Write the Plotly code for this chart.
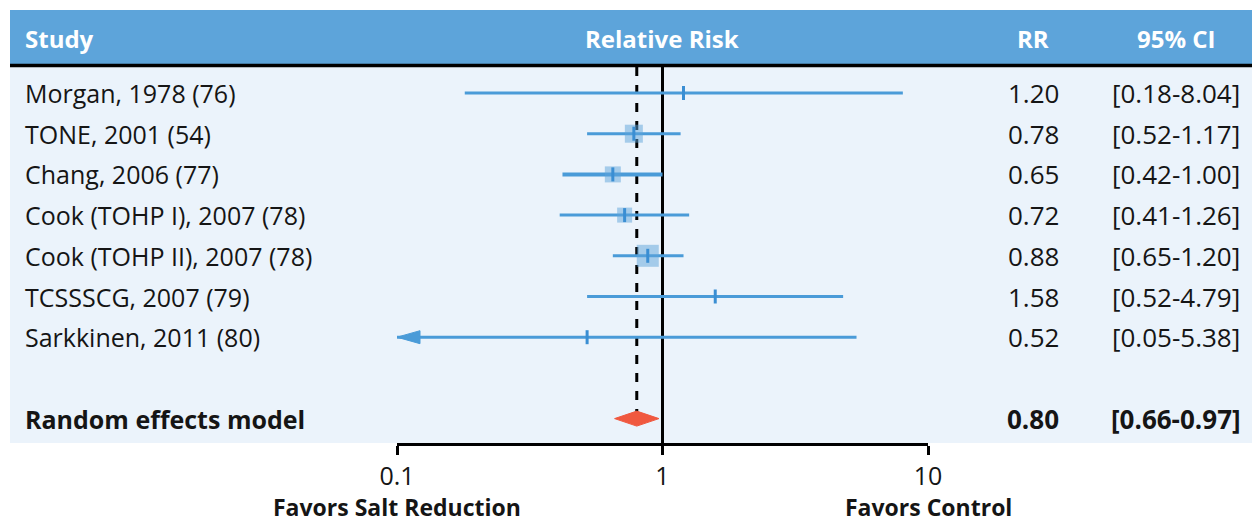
import math
import plotly.graph_objects as go

# ---------------- data ----------------
studies = ["Morgan, 1978 (76)", "TONE, 2001 (54)", "Chang, 2006 (77)",
           "Cook (TOHP I), 2007 (78)", "Cook (TOHP II), 2007 (78)",
           "TCSSSCG, 2007 (79)", "Sarkkinen, 2011 (80)"]
rr = [1.20, 0.78, 0.65, 0.72, 0.88, 1.58, 0.52]
ci_low = [0.18, 0.52, 0.42, 0.41, 0.65, 0.52, 0.05]
ci_high = [8.04, 1.17, 1.00, 1.26, 1.20, 4.79, 5.38]
pooled_label = "Random effects model"
pooled_rr = 0.80
pooled_low = 0.66
pooled_high = 0.97
tick_vals = [0.1, 1, 10]
tick_text = ["0.1", "1", "10"]
x_min, x_max = 0.1, 10

# ---------------- style ----------------
W, H = 1252, 523
FONT = "Open Sans"
HEADER_BLUE = "#5DA4DA"
PANEL = "#EBF3FB"
LINE_BLUE = "#4A9BD8"
TICK_BLUE = "#3A8ED3"
BOX = "rgba(93,164,218,0.5)"
RED = "#F0583F"
TXT = "#151515"
box_px = [0, 18, 16, 15, 22, 0, 0]
line_w = [3, 3, 4, 3, 3, 3, 3]

ax_left_px, ax_right_px = 397, 928
panel_top_px, panel_bot_px = 67, 443
row0_px, row_step = 93, 40.7
pooled_row = len(studies) + 1

def py(px):
    return 1 - px / H

y_top = (panel_top_px - row0_px) / row_step
y_bot = (panel_bot_px - row0_px) / row_step

fig = go.Figure()

# CI lines and point estimates
for i, (lo, hi, r) in enumerate(zip(ci_low, ci_high, rr)):
    fig.add_trace(go.Scatter(x=[max(lo, x_min * 0.5), hi], y=[i, i], mode="lines",
                             line=dict(color=LINE_BLUE, width=line_w[i]),
                             hoverinfo="skip", showlegend=False))
    if box_px[i] > 0:
        fig.add_trace(go.Scatter(x=[r], y=[i], mode="markers",
                                 marker=dict(symbol="square", size=box_px[i], color=BOX),
                                 hoverinfo="skip", showlegend=False))
    fig.add_trace(go.Scatter(x=[r], y=[i], mode="markers",
                             marker=dict(symbol="line-ns", size=10,
                                         line=dict(color=TICK_BLUE, width=3)),
                             hoverinfo="skip", showlegend=False))
    # arrow for CI truncated at the axis minimum
    if lo < x_min:
        dec_px = (ax_right_px - ax_left_px) / (math.log10(x_max) - math.log10(x_min))
        base = x_min * 10 ** (23 / dec_px)
        hh = 6.5 / row_step
        fig.add_trace(go.Scatter(x=[x_min, base, base, x_min], y=[i, i - hh, i + hh, i],
                                 mode="lines", fill="toself", fillcolor=LINE_BLUE,
                                 line=dict(color=LINE_BLUE, width=1),
                                 hoverinfo="skip", showlegend=False))

# pooled diamond
dh = 7.5 / row_step
fig.add_trace(go.Scatter(x=[pooled_low, pooled_rr, pooled_high, pooled_rr, pooled_low],
                         y=[pooled_row, pooled_row - dh, pooled_row, pooled_row + dh, pooled_row],
                         mode="lines", fill="toself", fillcolor=RED,
                         line=dict(color=RED, width=1), hoverinfo="skip", showlegend=False))

shapes = [
    dict(type="rect", xref="paper", yref="paper", x0=10 / W, x1=1, y0=py(64), y1=py(10),
         fillcolor=HEADER_BLUE, line=dict(width=0), layer="below"),
    dict(type="rect", xref="paper", yref="paper", x0=10 / W, x1=1, y0=py(panel_bot_px),
         y1=py(panel_top_px), fillcolor=PANEL, line=dict(width=0), layer="below"),
    dict(type="line", xref="paper", yref="paper", x0=10 / W, x1=1, y0=py(65.5), y1=py(65.5),
         line=dict(color="black", width=3.5)),
    dict(type="line", xref="x", yref="y domain", x0=1, x1=1, y0=0, y1=1,
         line=dict(color="black", width=3), layer="below"),
    dict(type="line", xref="x", yref="y", x0=pooled_rr, x1=pooled_rr, y0=y_top, y1=pooled_row,
         line=dict(color="black", width=3, dash="dash"), layer="below"),
]

ann = []
hdr_font = dict(family=FONT, size=24, color="white")
for txt, xp, anchor in [("Study", 23, "left"), ("Relative Risk", 662, "center"),
                        ("RR", 1033, "center"), ("95% CI", 1176, "center")]:
    ann.append(dict(text=f"<b>{txt}</b>", x=xp / W, y=py(38), xanchor=anchor, yanchor="middle",
                    xref="paper", yref="paper", showarrow=False, font=hdr_font))

name_font = dict(family=FONT, size=25, color=TXT)
num_font = dict(family=FONT, size=26, color=TXT)
for i, (name, r, lo, hi) in enumerate(zip(studies, rr, ci_low, ci_high)):
    ann.append(dict(text=name, x=23 / W, y=i, xref="paper", yref="y", xanchor="left",
                    yanchor="middle", showarrow=False, font=name_font))
    ann.append(dict(text=f"{r:.2f}", x=1033 / W, y=i, xref="paper", yref="y", xanchor="center",
                    yanchor="middle", showarrow=False, font=num_font))
    ann.append(dict(text=f"[{lo:.2f}-{hi:.2f}]", x=1176 / W, y=i, xref="paper", yref="y",
                    xanchor="center", yanchor="middle", showarrow=False, font=num_font))
ann.append(dict(text=f"<b>{pooled_label}</b>", x=23 / W, y=pooled_row, xref="paper", yref="y",
                xanchor="left", yanchor="middle", showarrow=False, font=name_font))
ann.append(dict(text=f"<b>{pooled_rr:.2f}</b>", x=1033 / W, y=pooled_row, xref="paper", yref="y",
                xanchor="center", yanchor="middle", showarrow=False, font=num_font))
ann.append(dict(text=f"<b>[{pooled_low:.2f}-{pooled_high:.2f}]</b>", x=1176 / W, y=pooled_row,
                xref="paper", yref="y", xanchor="center", yanchor="middle", showarrow=False,
                font=num_font))

foot_font = dict(family=FONT, size=23, color=TXT)
ann.append(dict(text="<b>Favors Salt Reduction</b>", x=397 / W, y=py(507), xref="paper", yref="paper",
                xanchor="center", yanchor="middle", showarrow=False, font=foot_font))
ann.append(dict(text="<b>Favors Control</b>", x=928 / W, y=py(507), xref="paper", yref="paper",
                xanchor="center", yanchor="middle", showarrow=False, font=foot_font))

fig.update_layout(
    width=W, height=H, margin=dict(l=0, r=0, t=0, b=0, pad=0, autoexpand=False),
    paper_bgcolor="white", plot_bgcolor="rgba(0,0,0,0)",
    shapes=shapes, annotations=ann, showlegend=False,
    xaxis=dict(type="log", range=[math.log10(x_min), math.log10(x_max)],
               domain=[ax_left_px / W, ax_right_px / W], automargin=False,
               tickvals=tick_vals, ticktext=tick_text, ticks="outside", ticklen=9,
               tickwidth=3, tickcolor="black", showline=True, linewidth=3, linecolor="black",
               showgrid=False, zeroline=False, tickfont=dict(family=FONT, size=25, color=TXT),
               fixedrange=True),
    yaxis=dict(range=[y_bot, y_top], domain=[py(panel_bot_px), py(panel_top_px)],
               automargin=False, showgrid=False, zeroline=False, showticklabels=False,
               showline=False, fixedrange=True),
)

fig.write_html("out.html", config={"displayModeBar": False},
               post_script="document.body.style.margin='0';document.body.style.overflow='hidden';")
